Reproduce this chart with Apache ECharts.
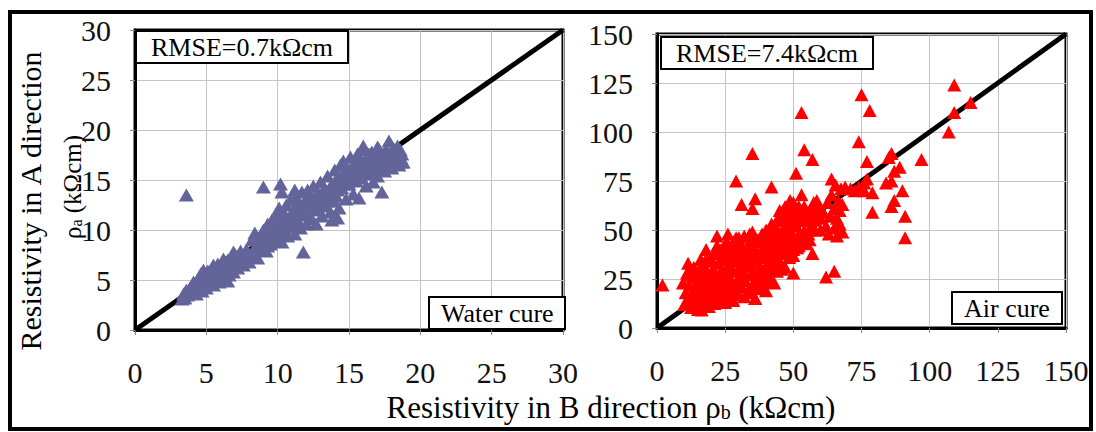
<!DOCTYPE html>
<html>
<head>
<meta charset="utf-8">
<title>Resistivity in A vs B direction</title>
<script src="https://cdn.jsdelivr.net/npm/echarts@6/dist/echarts.min.js"></script>
<style>
  html, body { margin: 0; padding: 0; background: #fff; }
  #chart { width: 1096px; height: 432px; }
</style>
</head>
<body>
<div id="chart"></div>
<script>
// Axis ranges and tick steps (kΩcm)
const waterMax = 30, waterStep = 5;
const airMax = 150, airStep = 25;

// Annotation texts
const waterRmse = 'RMSE=0.7kΩcm';
const airRmse = 'RMSE=7.4kΩcm';
const waterLabel = 'Water cure';
const airLabel = 'Air cure';

// Water-cured specimens: [rho_b, rho_a]
const waterCure = [
  [3.3,3.1],[3.4,3.6],[3.5,3.2],[3.6,4.0],[3.7,3.5],[3.9,4.3],[4.0,3.7],[4.1,4.8],[4.2,4.1],[4.3,3.6],
  [4.4,5.0],[4.5,4.4],[4.6,5.6],[4.7,3.9],[4.8,4.8],[4.9,5.3],[5.0,4.2],[5.1,5.9],[5.2,4.7],[5.3,5.4],
  [5.4,6.2],[5.5,4.5],[5.6,5.1],[5.7,6.0],[5.8,5.5],[5.9,4.8],[6.0,6.4],[6.1,5.8],[6.2,5.2],[6.3,6.8],
  [6.4,6.1],[6.5,4.9],[6.6,5.5],[6.7,7.2],[6.8,6.4],[6.9,5.8],[7.0,7.6],[7.1,6.8],[7.2,6.2],[7.4,7.9],
  [7.5,7.1],[7.6,6.5],[7.8,8.0],[7.9,7.3],[8.0,6.8],
  [3.8,3.9],[4.2,4.5],[4.6,4.3],[5.0,5.0],[5.3,4.9],[5.6,5.7],[6.0,5.3],[6.3,6.0],[6.6,6.5],[7.0,6.3],
  [7.3,7.0],[7.7,7.5],[8.0,7.6],[5.8,6.6],[6.5,7.0],[7.2,7.4],[4.8,6.0],[5.5,6.5],[6.2,7.1],[6.9,7.8],
  [8.2,9.0],[8.3,7.8],[8.4,9.7],[8.5,8.5],[8.6,7.2],[8.8,9.3],[8.9,8.1],[9.0,10.0],[9.1,9.0],[9.2,7.9],
  [9.3,10.6],[9.4,9.5],[9.5,8.6],[9.6,11.0],[9.7,10.1],[9.8,9.0],[9.9,11.6],[10.0,10.5],[10.0,9.3],[10.1,12.2],
  [10.2,11.0],[10.3,8.8],[10.4,11.7],[10.5,10.0],[10.6,12.5],[10.7,9.4],[10.8,11.2],[10.9,13.0],[11.0,10.3],[11.1,12.0],
  [11.2,9.6],[11.3,13.3],[11.4,11.0],[11.5,12.6],[11.6,10.2],[11.7,13.8],[11.8,11.6],[11.9,12.9],[12.0,10.6],[12.1,14.0],
  [12.2,12.2],[12.3,13.4],[12.4,11.1],[12.5,14.4],[12.6,12.7],[12.7,10.6],[12.8,13.8],[12.9,12.0],[13.0,14.8],[13.1,11.4],
  [13.2,13.1],[13.3,14.2],[13.4,12.4],[13.5,15.4],[13.6,13.6],[13.7,11.8],[13.8,14.6],[13.9,12.9],[14.0,16.0],[14.1,13.4],
  [14.2,15.1],[14.3,12.2],[14.4,16.5],[14.5,14.2],[14.6,16.9],[14.7,15.5],[14.8,13.1],[14.9,16.1],[15.0,14.6],[15.1,17.3],
  [15.2,15.4],[15.3,13.6],[15.4,16.6],[15.5,14.9],[15.6,17.6],[15.7,13.2],[15.8,16.0],[15.9,15.2],[16.0,18.0],[16.1,16.8],
  [16.2,14.4],[16.3,17.3],[16.4,15.6],[16.5,16.5],[16.6,17.8],[16.7,14.8],[16.8,16.1],[16.9,17.2],[17.0,15.4],[17.1,18.1],
  [17.2,16.6],[17.4,17.6],[17.5,15.9],[17.6,16.9],[17.8,18.9],[17.9,17.4],[18.0,16.2],[18.1,18.2],[18.2,17.0],[18.4,17.8],
  [18.5,16.5],[18.6,17.3],[18.7,16.8],
  [8.7,8.8],[9.0,9.4],[9.3,8.4],[9.6,9.8],[9.9,10.2],[10.2,9.8],[10.4,10.6],[10.6,11.3],[10.9,10.8],[11.1,11.5],
  [11.3,10.6],[11.5,11.8],[11.8,12.3],[12.0,11.5],[12.2,13.0],[12.4,12.1],[12.6,13.3],[12.9,13.2],[13.1,12.7],[13.3,13.6],
  [13.5,12.9],[13.7,14.1],[13.9,13.8],[14.0,14.8],[14.2,14.0],[14.4,15.2],[14.6,15.8],[14.8,14.6],[15.0,15.8],[15.2,16.3],
  [15.4,15.5],[15.6,16.2],[15.8,17.0],[16.0,15.9],[16.2,16.9],[16.4,17.6],[16.6,16.0],[16.8,17.0],[17.0,16.6],[17.2,17.4],
  [17.4,16.4],[17.6,18.0],[17.8,17.2],[18.0,17.6],[18.2,16.7],[18.4,18.4],[18.6,18.0],[18.7,17.6],[18.8,16.8],
  [3.6,13.5],[9.0,14.3],[10.2,14.6],[10.3,13.8],[11.2,14.0],[11.8,7.8],[13.8,11.0],[14.2,11.2],[17.3,13.8],[16.0,18.4],[17.0,18.3]
];

// Air-cured specimens: [rho_b, rho_a]
const airCure = [
  [2,22],
  [9.5,23],[10,12],[10.5,18],[11,28],[11.4,33],[11.5,15],[12,22],[12.5,10.5],[13,26],[13,17],[13.5,31],[14,12],[14,21],
  [15,9.5],[15,24],[15.5,16],[15.5,29],[16,35],[16.4,9.2],[16.5,20],[17,27],[17,13],[17.5,31],[18,40],[18,18],[18.5,23],[19,11],[19,34],[19.5,27],
  [20,15],[20,21],[20.5,30],[21,38],[21,12.5],[21.5,25],[22,47],[22,19],[22.5,33],[23,14],[23,28],[23.5,40],[24,22],[24,17],[24.5,35],
  [25,13],[25,27],[25.5,44],[26,20],[26,31],[26,48],[26.5,37],[27,15],[27,25],[27.5,41],[28,29],[28,18],[28.5,34],[29,22],[29,46],[29.5,38],
  [30,26],[30,17],[30.5,31],[31,42],[31,21],[31.5,35],[32,28],[32,47],[32.5,24],[33,39],[33,18],[33.5,32],[34,44],[34,27],[34.5,36],
  [35,22],[35,49],[35.5,30],[36,40],[36,15],[36.5,34],[37,26],[37,45],[37.5,38],[38,21],[38,31],[38.5,48],[39,36],[39,28],[39.5,42],
  [40,19],[40,50],[40.5,33],[41,25],[41,39],[41.5,46],[42,30],[42,53],[42.5,37],[43,23],[43,43],[43.5,34],[44,55],[44,29],[44.5,49],
  [45,40],[45,60],[45.5,33],[46,46],[46,55],[46.5,38],[47,62],[47,31],[47.5,51],[48,43],[48,58],[48.5,36],[48.8,65],[49,48],[49.5,55],
  [50,37],[50,64],[50.5,44],[51,52],[51,59],[51.5,41],[52,62],[52,48],[52.5,55],[53,45],[53.5,58],[54,50],[54,62],[54.9,43],[55,55],
  [55.5,48],[56,60],[56.5,52],[57,57],[57.5,64],[58,50],[58.6,65],[59,60],[60,56],
  [12,14],[12,27],[14,17],[14,27],[16,12],[16,25],[16,31],[18,14],[18,27],[18,35],[20,18],[20,25],[20,35],[22,15],
  [22,24],[22,38],[22,42],[24,13],[24,30],[24,40],[26,16],[26,25],[26,35],[26,42],[28,14],[28,22],[28,39],[28,44],
  [30,21],[30,36],[30,41],[30,46],[32,16],[32,32],[32,38],[34,18],[34,32],[34,40],[34,48],[36,20],[36,28],[36,45],
  [38,24],[38,36],[38,44],[40,24],[40,28],[40,38],[40,45],[42,24],[42,34],[42,42],[42,48],[44,33],[44,38],[44,45],
  [44,50],[46,30],[46,42],[46,50],[46,58],[48,38],[48,47],[48,53],[48,62],[50,40],[50,47],[50,54],[50,60],[52,42],
  [52,57],[54,46],[54,55],[56,45],[56,50],[56,56],[58,55],[58,61],[60,50],[60,61],
  [61,59],[62,52],[62.5,64],[63,48],[63.5,57],[64,68],[64,76],[65,51],[65,61],[65.5,73],[66,47],[66,56],[66.5,65],[67,53],
  [67,60],[67.5,71],[68,49],[68,63],[69,72],[71,71],[72.5,70],[74,72],[76,74],
  [29,75],[31,63],[35,61],[36,66],[35,89],[42,72],[51,79],[53,110],[54,91],[57,86],[53,68],[50,28],[62,26],[65,29],[36,15],[57,38],
  [75,119],[78,111],[74,95],[77,85],[77,76],[76,70],[79,69],[79,59],[84,74],[85,87],[86,89],[87,80],[89,82],[86,75],[87,65],
  [86,62],[90,70],[91,57],[91,46],[97,86],[107,100],[109,110],[109,124],[115,115]
];

const serif = "'Liberation Serif', Times, serif";

function makeAxis(gridIndex, max, step, labelMargin) {
  return {
    type: 'value', gridIndex: gridIndex, min: 0, max: max, interval: step,
    axisLine: { show: true, onZero: false, lineStyle: { color: '#000', width: 3 } },
    axisTick: { show: true, length: 5, lineStyle: { color: '#888', width: 1 } },
    splitLine: { show: true, lineStyle: { color: '#c4c4c4', width: 1 } },
    axisLabel: { fontFamily: serif, fontSize: 30, color: '#111', margin: labelMargin }
  };
}

function boxTitle(text, left, top, padX) {
  return {
    text: text, left: left, top: top,
    padding: [3, padX, 3, padX],
    borderColor: '#000', borderWidth: 2, backgroundColor: '#fff',
    textStyle: { fontFamily: serif, fontSize: 26, fontWeight: 'normal', color: '#000' }
  };
}

const chart = echarts.init(document.getElementById('chart'), null, { renderer: 'svg' });

chart.setOption({
  animation: false,
  backgroundColor: '#fff',
  textStyle: { fontFamily: serif },
  grid: [
    { left: 135, top: 30, width: 428, height: 300, show: true, borderColor: '#000', borderWidth: 3, backgroundColor: 'transparent', outerBoundsMode: 'none' },
    { left: 657, top: 34, width: 409, height: 294, show: true, borderColor: '#000', borderWidth: 3, backgroundColor: 'transparent', outerBoundsMode: 'none' }
  ],
  xAxis: [makeAxis(0, waterMax, waterStep, 27), makeAxis(1, airMax, airStep, 27)],
  yAxis: [makeAxis(0, waterMax, waterStep, 24), makeAxis(1, airMax, airStep, 24)],
  title: [
    boxTitle(waterRmse, 136, 31, 15),
    boxTitle(waterLabel, 429, 297, 12),
    boxTitle(airRmse, 661, 37, 15),
    boxTitle(airLabel, 952, 292, 12)
  ],
  graphic: [
    {
      type: 'rect', silent: true, z: 100,
      shape: { x: 10, y: 12, width: 1081, height: 417 },
      style: { fill: 'none', stroke: '#000', lineWidth: 4 }
    },
    {
      type: 'text', x: 30, y: 201, rotation: Math.PI / 2,
      style: { text: 'Resistivity in A direction', font: '30px ' + serif, fill: '#000', align: 'center', verticalAlign: 'middle' }
    },
    {
      type: 'text', x: 72, y: 187, rotation: Math.PI / 2,
      style: {
        text: '{r|ρ}{s|a}{r| (kΩcm)}', align: 'center', verticalAlign: 'middle',
        rich: {
          r: { font: '25px ' + serif, fill: '#000' },
          s: { font: '16px ' + serif, fill: '#000', padding: [8, 0, 0, 0] }
        }
      }
    },
    {
      type: 'text', x: 611, y: 407,
      style: {
        text: '{r|Resistivity in B direction ρ}{s|b}{r| (kΩcm)}', align: 'center', verticalAlign: 'middle',
        rich: {
          r: { font: '31px ' + serif, fill: '#000' },
          s: { font: '20px ' + serif, fill: '#000', padding: [10, 0, 0, 0] }
        }
      }
    }
  ],
  series: [
    {
      type: 'line', xAxisIndex: 0, yAxisIndex: 0, z: 1,
      data: [[0, 0], [waterMax, waterMax]], symbol: 'none',
      lineStyle: { color: '#000', width: 5 }
    },
    {
      type: 'scatter', xAxisIndex: 0, yAxisIndex: 0, z: 2,
      data: waterCure, symbol: 'triangle', symbolSize: [15, 13],
      itemStyle: { color: '#63659a', opacity: 1 }
    },
    {
      type: 'line', xAxisIndex: 1, yAxisIndex: 1, z: 1,
      data: [[0, 0], [airMax, airMax]], symbol: 'none',
      lineStyle: { color: '#000', width: 5 }
    },
    {
      type: 'scatter', xAxisIndex: 1, yAxisIndex: 1, z: 2,
      data: airCure, symbol: 'triangle', symbolSize: [14, 13],
      itemStyle: { color: '#ff0000', opacity: 1 }
    }
  ]
});
</script>
</body>
</html>
